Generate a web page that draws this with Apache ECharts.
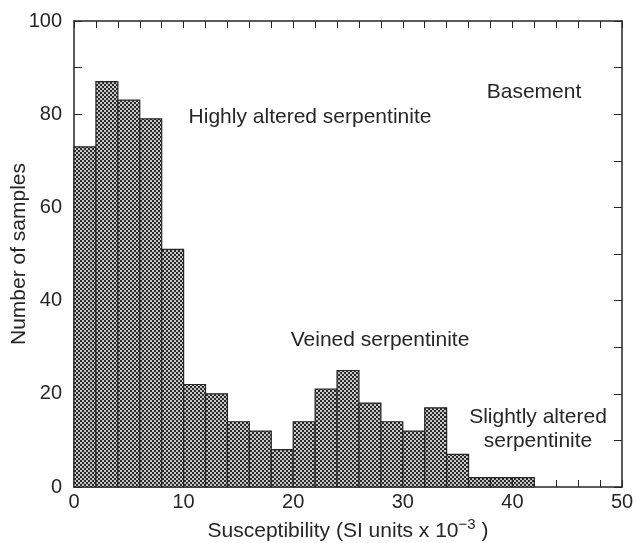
<!DOCTYPE html>
<html><head><meta charset="utf-8">
<script src="https://cdn.jsdelivr.net/npm/echarts@6/dist/echarts.min.js"></script>
<style>html,body{margin:0;padding:0;background:#fff}#c{width:635px;height:543px}</style>
</head><body><div id="c"></div>
<script>
const binStarts = [0,2,4,6,8,10,12,14,16,18,20,22,24,26,28,30,32,34,36,38,40];
const binWidth = 2;
const counts = [73,87,83,79,51,22,20,14,12,8,14,21,25,18,14,12,17,7,2,2,2];
const xTicks = [0,10,20,30,40,50];
const yTicks = [0,20,40,60,80,100];

const pc = document.createElement('canvas');
pc.width = 4; pc.height = 4;
const g = pc.getContext('2d');
g.fillStyle = '#c8c8c8'; g.fillRect(0,0,4,4);
g.fillStyle = '#2a2a2a'; g.fillRect(0,0,2,2); g.fillRect(2,2,2,2);

const data = binStarts.map((s,i)=>[s, s+binWidth, counts[i]]);
const font = 'Liberation Sans, Arial, sans-serif';
const ink = '#262626';
const lineAx = {onZero:false,lineStyle:{color:ink,width:1.5}};
const chart = echarts.init(document.getElementById('c'));
chart.setOption({
  animation:false,
  grid:{left:74,right:13,top:21,bottom:56,containLabel:false,outerBoundsMode:'none'},
  xAxis:[{type:'value',min:0,max:50,interval:2,
    axisLine:lineAx,
    axisTick:{inside:true,length:7,lineStyle:{color:ink}},
    splitLine:{show:false},
    axisLabel:{color:ink,fontSize:20,fontFamily:font,margin:5,
      formatter:v=>xTicks.includes(v)?String(v):''},
    name:'{a|Susceptibility (SI units x 10}{s|−3}{a| )}',nameLocation:'middle',nameGap:30,nameMoveOverlap:false,
    nameTextStyle:{fontSize:21,fontFamily:font,color:ink,rich:{a:{fontSize:21,fontFamily:font,color:ink},s:{fontSize:15,fontFamily:font,color:ink,verticalAlign:'top',padding:[0,0,14,0]}}}
  },{type:'value',position:'top',min:0,max:50,interval:2,
    axisLine:lineAx,
    axisTick:{inside:true,length:7,lineStyle:{color:ink}},
    axisLabel:{show:false},splitLine:{show:false}}],
  yAxis:[{type:'value',min:0,max:100,interval:10,
    axisLine:Object.assign({show:true},lineAx),
    axisTick:{show:true,inside:true,length:8,lineStyle:{color:ink}},
    splitLine:{show:false},
    axisLabel:{color:ink,fontSize:20,fontFamily:font,margin:12,
      formatter:v=>yTicks.includes(v)?String(v):''},
    name:'Number of samples',nameLocation:'middle',nameGap:44,nameMoveOverlap:false,
    nameTextStyle:{fontSize:21,fontFamily:font,color:ink}
  },{type:'value',position:'right',min:0,max:100,interval:10,
    axisLine:Object.assign({show:true},lineAx),
    axisTick:{show:true,inside:true,length:8,lineStyle:{color:ink}},
    axisLabel:{show:false},splitLine:{show:false}}],
  series:[{type:'custom',xAxisIndex:0,yAxisIndex:0,data:data,
    renderItem:(params,api)=>{
      const p0 = api.coord([api.value(0),api.value(2)]);
      const p1 = api.coord([api.value(1),0]);
      return {type:'rect',shape:{x:p0[0],y:p0[1],width:p1[0]-p0[0],height:p1[1]-p0[1]},
        style:{fill:{image:pc,repeat:'repeat'},stroke:ink,lineWidth:1.2}};
    }}],
  graphic:[
    {type:'text',x:534,y:92,style:{text:'Basement',fontSize:21,fontFamily:font,fill:ink,align:'center',verticalAlign:'middle'}},
    {type:'text',x:310,y:117,style:{text:'Highly altered serpentinite',fontSize:21,fontFamily:font,fill:ink,align:'center',verticalAlign:'middle'}},
    {type:'text',x:380,y:340,style:{text:'Veined serpentinite',fontSize:21,fontFamily:font,fill:ink,align:'center',verticalAlign:'middle'}},
    {type:'text',x:538,y:429,style:{text:'Slightly altered\nserpentinite',fontSize:21,lineHeight:24,fontFamily:font,fill:ink,align:'center',verticalAlign:'middle'}}
  ]
});
</script></body></html>
